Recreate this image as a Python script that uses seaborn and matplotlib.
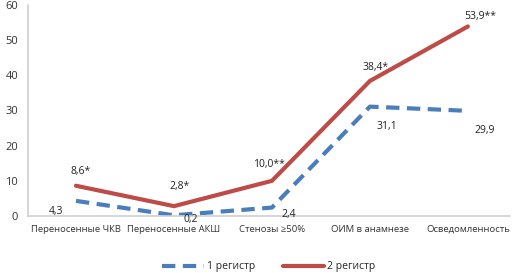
import matplotlib
matplotlib.use("Agg")
import matplotlib.pyplot as plt
import pandas as pd
import seaborn as sns

CATEGORIES = ["Переносенные ЧКВ", "Переносенные АКШ", "Стенозы ≥50%",
              "ОИМ в анамнезе", "Осведомленность"]
REG1 = [4.3, 0.2, 2.4, 31.1, 29.9]
REG2 = [8.6, 2.8, 10.0, 38.4, 53.9]
REG1_LABELS = ["4,3", "0,2", "2,4", "31,1", "29,9"]
REG2_LABELS = ["8,6*", "2,8*", "10,0**", "38,4*", "53,9**"]
SERIES = ["1 регистр", "2 регистр"]

BLUE = "#4a7ebb"
RED = "#be4b48"

sns.set_style("white")
plt.rcParams["font.family"] = ["Open Sans", "DejaVu Sans"]

df = pd.DataFrame({
    "cat": list(range(len(CATEGORIES))) * 2,
    "value": REG1 + REG2,
    "series": [SERIES[0]] * len(REG1) + [SERIES[1]] * len(REG2),
})

fig = plt.figure(figsize=(5.13, 2.73), dpi=100)
ax = fig.add_axes([28 / 513, 57 / 273, 482 / 513, 211 / 273])

sns.lineplot(data=df[df.series == SERIES[0]], x="cat", y="value", ax=ax,
             color=BLUE, lw=3, label=SERIES[0])
sns.lineplot(data=df[df.series == SERIES[1]], x="cat", y="value", ax=ax,
             color=RED, lw=3, label=SERIES[1])
ax.lines[0].set_dashes([3.2, 1.8])

# value labels (offsets in points)
blue_off = [(-14, -8), (12, -3), (12, -5), (12, -14), (12, -14)]
red_off = [(3, 10), (4, 14), (-2, 12), (4, 10), (9, 7)]
for i in range(len(CATEGORIES)):
    ax.annotate(REG1_LABELS[i], (i, REG1[i]), xytext=blue_off[i],
                textcoords="offset points", ha="center", va="center",
                fontsize=7.5, color="#222222")
    ax.annotate(REG2_LABELS[i], (i, REG2[i]), xytext=red_off[i],
                textcoords="offset points", ha="center", va="center",
                fontsize=7.5, color="#222222")

ax.set_xlim(-0.49, 4.43)
ax.set_ylim(0, 60)
ax.set_yticks(range(0, 61, 10))
ax.set_xticks(range(len(CATEGORIES)))
ax.set_xticklabels(CATEGORIES, fontsize=6.8, color="#333333")
ax.tick_params(axis="y", labelsize=8, colors="#333333", length=3,
               color="#cccccc", pad=4)
ax.tick_params(axis="x", length=0, pad=6.5)
ax.set_xlabel("")
ax.set_ylabel("")
for side in ["top", "right"]:
    ax.spines[side].set_visible(False)
for side in ["left", "bottom"]:
    ax.spines[side].set_color("#d0d0d0")
    ax.spines[side].set_linewidth(1.2)

ax.legend(loc="upper center", bbox_to_anchor=(0.5, -0.17), ncol=2,
          frameon=False, fontsize=7.5, handlelength=4.0, columnspacing=2.6,
          handletextpad=0.3)

fig.savefig("out.png", dpi=100)
